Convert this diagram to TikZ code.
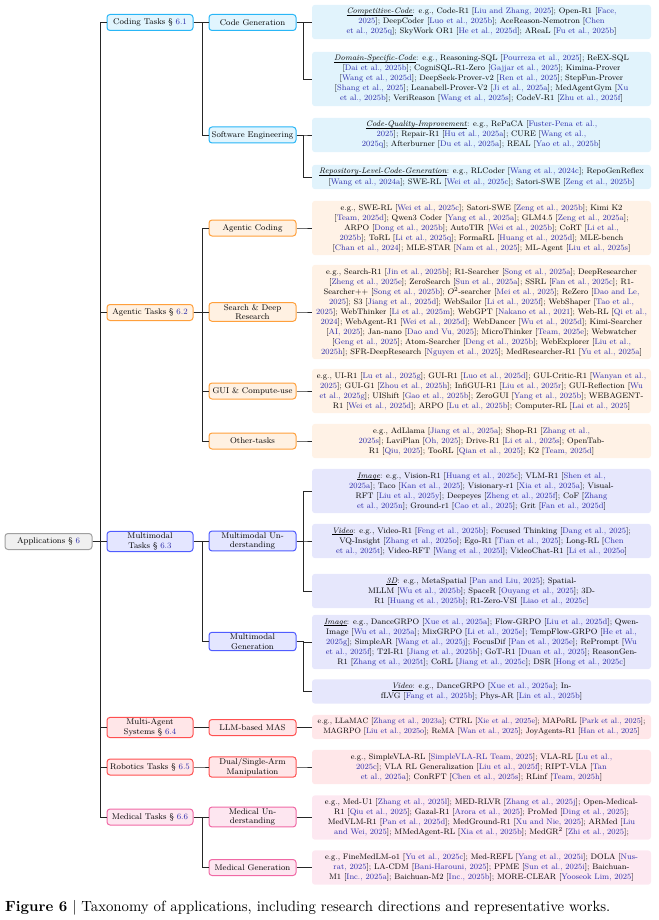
\documentclass[tikz,border=0pt]{standalone}
\usepackage{xcolor}
\usepackage{graphicx}
\definecolor{citeC}{RGB}{45,45,170}
\definecolor{cdB}{RGB}{41,182,246}\definecolor{cdF}{RGB}{225,245,254}\definecolor{cdL}{RGB}{225,243,252}
\definecolor{agB}{RGB}{255,160,60}\definecolor{agF}{RGB}{255,241,226}\definecolor{agL}{RGB}{255,242,230}
\definecolor{mmB}{RGB}{80,92,255}\definecolor{mmF}{RGB}{228,230,255}\definecolor{mmL}{RGB}{230,231,252}
\definecolor{maB}{RGB}{255,80,80}\definecolor{maF}{RGB}{255,230,232}\definecolor{maL}{RGB}{255,231,233}
\definecolor{mdB}{RGB}{240,105,165}\definecolor{mdF}{RGB}{253,230,240}\definecolor{mdL}{RGB}{253,232,241}
\definecolor{apB}{RGB}{160,160,160}\definecolor{apF}{RGB}{240,240,240}
\newcommand\C[1]{{\color{citeC}#1}}
\newcommand\U[1]{\setbox0\hbox{\textit{#1}}\rlap{\rule[-1.7pt]{\wd0}{0.4pt}}\box0}
\begin{document}
\begin{tikzpicture}[x=1pt,y=-1pt,
  cat/.style={draw, rounded corners=3pt, line width=1pt, minimum height=16pt, inner sep=1.5pt, align=center, font=\fontsize{8.3}{9.5}\selectfont},
  lone/.style={cat, minimum width=86pt},
  ltwo/.style={cat, minimum width=87pt},
  leaf/.style={rounded corners=3pt, minimum width=339pt, inner xsep=2pt, inner ysep=3.2pt, align=center, font=\fontsize{8}{10}\selectfont},
  cd/.style={draw=cdB, fill=cdF}, ag/.style={draw=agB, fill=agF}, mm/.style={draw=mmB, fill=mmF},
  ma/.style={draw=maB, fill=maF}, md/.style={draw=mdB, fill=mdF},
  conn/.style={draw=black!85, line width=0.9pt}]
\useasboundingbox (0,0) rectangle (658,920);

% root
\node[cat, draw=apB, fill=apF, minimum width=87pt] (A) at (48.5,541.5) {Applications \S\ \C{6}};

% level 1
\node[lone,cd] (c1) at (150,22.5) {Coding Tasks \S\ \C{6.1}};
\node[lone,ag] (c2) at (150,312.5) {Agentic Tasks \S\ \C{6.2}};
\node[lone,mm] (c3) at (150,541.5) {Multimodal\\Tasks \S\ \C{6.3}};
\node[lone,ma] (c4) at (150,727.5) {Multi-Agent\\Systems \S\ \C{6.4}};
\node[lone,ma] (c5) at (150,767) {Robotics Tasks \S\ \C{6.5}};
\node[lone,md] (c6) at (150,817) {Medical Tasks \S\ \C{6.6}};

% level 2
\node[ltwo,cd] (s11) at (252.5,22.5) {Code Generation};
\node[ltwo,cd] (s12) at (252.5,135) {Software Engineering};
\node[ltwo,ag] (s21) at (252.5,228) {Agentic Coding};
\node[ltwo,ag] (s22) at (252.5,312) {Search \& Deep\\Research};
\node[ltwo,ag] (s23) at (252.5,391) {GUI \& Compute-use};
\node[ltwo,ag] (s24) at (252.5,441) {Other-tasks};
\node[ltwo,mm] (s31) at (252.5,541) {Multimodal Un-\\derstanding};
\node[ltwo,mm] (s32) at (252.5,641.5) {Multimodal\\Generation};
\node[ltwo,ma] (s41) at (252.5,727.5) {LLM-based MAS};
\node[ltwo,ma] (s51) at (252.5,767) {Dual/Single-Arm\\Manipulation};
\node[ltwo,md] (s61) at (252.5,817) {Medical Un-\\derstanding};
\node[ltwo,md] (s62) at (252.5,867.5) {Medical Generation};

% leaves
\node[leaf,fill=cdL] (f1) at (481.5,22) {\U{Competitive-Code}: e.g., Code-R1 [\C{Liu and Zhang, 2025}]; Open-R1 [\C{Face,}\\
\C{2025}]; DeepCoder [\C{Luo et al., 2025b}]; AceReason-Nemotron [\C{Chen}\\
\C{et al., 2025q}]; SkyWork OR1 [\C{He et al., 2025d}]; AReaL [\C{Fu et al., 2025b}]};

\node[leaf,fill=cdL] (f2) at (481.5,79) {\U{Domain-Specific-Code}: e.g., Reasoning-SQL [\C{Pourreza et al., 2025}]; ReEX-SQL\\
{}[\C{Dai et al., 2025b}]; CogniSQL-R1-Zero [\C{Gajjar et al., 2025}]; Kimina-Prover\\
{}[\C{Wang et al., 2025d}]; DeepSeek-Prover-v2 [\C{Ren et al., 2025}]; StepFun-Prover\\
{}[\C{Shang et al., 2025}]; Leanabell-Prover-V2 [\C{Ji et al., 2025a}]; MedAgentGym [\C{Xu}\\
\C{et al., 2025b}]; VeriReason [\C{Wang et al., 2025s}]; CodeV-R1 [\C{Zhu et al., 2025f}]};

\node[leaf,fill=cdL] (f3) at (481.5,135) {\U{Code-Quality-Improvement}: e.g., RePaCA [\C{Fuster-Pena et al.,}\\
\C{2025}]; Repair-R1 [\C{Hu et al., 2025a}]; CURE [\C{Wang et al.,}\\
\C{2025q}]; Afterburner [\C{Du et al., 2025a}]; REAL [\C{Yao et al., 2025b}]};

\node[leaf,fill=cdL] (f4) at (481.5,177) {\U{Repository-Level-Code-Generation}: e.g., RLCoder [\C{Wang et al., 2024c}]; RepoGenReflex\\
{}[\C{Wang et al., 2024a}]; SWE-RL [\C{Wei et al., 2025c}]; Satori-SWE [\C{Zeng et al., 2025b}]};

\node[leaf,fill=agL] (f5) at (481.5,228) {e.g., SWE-RL [\C{Wei et al., 2025c}]; Satori-SWE [\C{Zeng et al., 2025b}]; Kimi K2\\
{}[\C{Team, 2025d}]; Qwen3 Coder [\C{Yang et al., 2025a}]; GLM4.5 [\C{Zeng et al., 2025a}];\\
ARPO [\C{Dong et al., 2025b}]; AutoTIR [\C{Wei et al., 2025b}]; CoRT [\C{Li et al.,}\\
\C{2025b}]; ToRL [\C{Li et al., 2025q}]; FormaRL [\C{Huang et al., 2025d}]; MLE-bench\\
{}[\C{Chan et al., 2024}]; MLE-STAR [\C{Nam et al., 2025}]; ML-Agent [\C{Liu et al., 2025s}]};

\node[leaf,fill=agL] (f6) at (481.5,312) {e.g., Search-R1 [\C{Jin et al., 2025b}]; R1-Searcher [\C{Song et al., 2025a}]; DeepResearcher\\
{}[\C{Zheng et al., 2025e}]; ZeroSearch [\C{Sun et al., 2025a}]; SSRL [\C{Fan et al., 2025c}]; R1-\\
Searcher++ [\C{Song et al., 2025b}]; $O^2$-searcher [\C{Mei et al., 2025}]; ReZero [\C{Dao and Le,}\\
\C{2025}]; S3 [\C{Jiang et al., 2025d}]; WebSailor [\C{Li et al., 2025f}]; WebShaper [\C{Tao et al.,}\\
\C{2025}]; WebThinker [\C{Li et al., 2025m}]; WebGPT [\C{Nakano et al., 2021}]; Web-RL [\C{Qi et al.,}\\
\C{2024}]; WebAgent-R1 [\C{Wei et al., 2025d}]; WebDancer [\C{Wu et al., 2025d}]; Kimi-Searcher\\
{}[\C{AI, 2025}]; Jan-nano [\C{Dao and Vu, 2025}]; MicroThinker [\C{Team, 2025e}]; Webwatcher\\
{}[\C{Geng et al., 2025}]; Atom-Searcher [\C{Deng et al., 2025b}]; WebExplorer [\C{Liu et al.,}\\
\C{2025h}]; SFR-DeepResearch [\C{Nguyen et al., 2025}]; MedResearcher-R1 [\C{Yu et al., 2025a}]};

\node[leaf,fill=agL] (f7) at (481.5,391) {e.g., UI-R1 [\C{Lu et al., 2025g}]; GUI-R1 [\C{Luo et al., 2025d}]; GUI-Critic-R1 [\C{Wanyan et al.,}\\
\C{2025}]; GUI-G1 [\C{Zhou et al., 2025h}]; InfiGUI-R1 [\C{Liu et al., 2025r}]; GUI-Reflection [\C{Wu}\\
\C{et al., 2025g}]; UIShift [\C{Gao et al., 2025b}]; ZeroGUI [\C{Yang et al., 2025b}]; WEBAGENT-\\
R1 [\C{Wei et al., 2025d}]; ARPO [\C{Lu et al., 2025b}]; Computer-RL [\C{Lai et al., 2025}]};

\node[leaf,fill=agL] (f8) at (481.5,441) {e.g., AdLlama [\C{Jiang et al., 2025a}]; Shop-R1 [\C{Zhang et al.,}\\
\C{2025s}]; LaviPlan [\C{Oh, 2025}]; Drive-R1 [\C{Li et al., 2025s}]; OpenTab-\\
R1 [\C{Qiu, 2025}]; TooRL [\C{Qian et al., 2025}]; K2 [\C{Team, 2025d}]};

\node[leaf,fill=mmL] (f9) at (481.5,491) {\U{Image}: e.g., Vision-R1 [\C{Huang et al., 2025c}]; VLM-R1 [\C{Shen et al.,}\\
\C{2025a}]; Taco [\C{Kan et al., 2025}]; Visionary-r1 [\C{Xia et al., 2025a}]; Visual-\\
RFT [\C{Liu et al., 2025y}]; Deepeyes [\C{Zheng et al., 2025f}]; CoF [\C{Zhang}\\
\C{et al., 2025n}]; Ground-r1 [\C{Cao et al., 2025}]; Grit [\C{Fan et al., 2025d}]};

\node[leaf,fill=mmL] (f10) at (481.5,541) {\U{Video}: e.g., Video-R1 [\C{Feng et al., 2025b}]; Focused Thinking [\C{Dang et al., 2025}];\\
VQ-Insight [\C{Zhang et al., 2025o}]; Ego-R1 [\C{Tian et al., 2025}]; Long-RL [\C{Chen}\\
\C{et al., 2025t}]; Video-RFT [\C{Wang et al., 2025l}]; VideoChat-R1 [\C{Li et al., 2025o}]};

\node[leaf,fill=mmL] (f11) at (481.5,591) {\U{3D}: e.g., MetaSpatial [\C{Pan and Liu, 2025}]; Spatial-\\
MLLM [\C{Wu et al., 2025b}]; SpaceR [\C{Ouyang et al., 2025}]; 3D-\\
R1 [\C{Huang et al., 2025b}]; R1-Zero-VSI [\C{Liao et al., 2025c}]};

\node[leaf,fill=mmL] (f12) at (481.5,642) {\U{Image}: e.g., DanceGRPO [\C{Xue et al., 2025a}]; Flow-GRPO [\C{Liu et al., 2025d}]; Qwen-\\
Image [\C{Wu et al., 2025a}]; MixGRPO [\C{Li et al., 2025e}]; TempFlow-GRPO [\C{He et al.,}\\
\C{2025g}]; SimpleAR [\C{Wang et al., 2025j}]; FocusDif [\C{Pan et al., 2025e}]; RePrompt [\C{Wu}\\
\C{et al., 2025f}]; T2I-R1 [\C{Jiang et al., 2025b}]; GoT-R1 [\C{Duan et al., 2025}]; ReasonGen-\\
R1 [\C{Zhang et al., 2025t}]; CoRL [\C{Jiang et al., 2025c}]; DSR [\C{Hong et al., 2025c}]};

\node[leaf,fill=mmL] (f13) at (481.5,691.5) {\U{Video}: e.g., DanceGRPO [\C{Xue et al., 2025a}]; In-\\
fLVG [\C{Fang et al., 2025b}]; Phys-AR [\C{Lin et al., 2025b}]};

\node[leaf,fill=maL,font=\fontsize{7.7}{10}\selectfont,inner xsep=1pt] (f14) at (481.5,727) {e.g., LLaMAC [\C{Zhang et al., 2023a}]; CTRL [\C{Xie et al., 2025e}]; MAPoRL [\C{Park et al., 2025}];\\
MAGRPO [\C{Liu et al., 2025o}]; ReMA [\C{Wan et al., 2025}]; JoyAgents-R1 [\C{Han et al., 2025}]};

\node[leaf,fill=maL] (f15) at (481.5,767) {e.g., SimpleVLA-RL [\C{SimpleVLA-RL Team, 2025}]; VLA-RL [\C{Lu et al.,}\\
\C{2025c}]; VLA RL Generalization [\C{Liu et al., 2025f}]; RIPT-VLA [\C{Tan}\\
\C{et al., 2025a}]; ConRFT [\C{Chen et al., 2025s}]; RLinf [\C{Team, 2025h}]};

\node[leaf,fill=mdL] (f16) at (481.5,817.5) {e.g., Med-U1 [\C{Zhang et al., 2025l}]; MED-RLVR [\C{Zhang et al., 2025j}]; Open-Medical-\\
R1 [\C{Qiu et al., 2025}]; Gazal-R1 [\C{Arora et al., 2025}]; ProMed [\C{Ding et al., 2025}];\\
MedVLM-R1 [\C{Pan et al., 2025d}]; MedGround-R1 [\C{Xu and Nie, 2025}]; ARMed [\C{Liu}\\
\C{and Wei, 2025}]; MMedAgent-RL [\C{Xia et al., 2025b}]; MedGR$^2$ [\C{Zhi et al., 2025}];};

\node[leaf,fill=mdL] (f17) at (481.5,867.5) {e.g., FineMedLM-o1 [\C{Yu et al., 2025c}]; Med-REFL [\C{Yang et al., 2025i}]; DOLA [\C{Nus-}\\
\C{rat, 2025}]; LA-CDM [\C{Bani-Harouni, 2025}]; PPME [\C{Sun et al., 2025i}]; Baichuan-\\
M1 [\C{Inc., 2025a}]; Baichuan-M2 [\C{Inc., 2025b}]; MORE-CLEAR [\C{Yooseok Lim, 2025}]};

% connectors
\foreach \c in {c1,c2,c3,c4,c5,c6} \draw[conn] (A.east) -- ++(8,0) |- (\c.west);
\foreach \p/\c in {c1/s11,c1/s12,c2/s21,c2/s22,c2/s23,c2/s24,c3/s31,c3/s32,c4/s41,c5/s51,c6/s61,c6/s62}
  \draw[conn] (\p.east) -- ++(8.5,0) |- (\c.west);
\foreach \p/\c in {s11/f1,s11/f2,s12/f3,s12/f4,s21/f5,s22/f6,s23/f7,s24/f8,s31/f9,s31/f10,s31/f11,s32/f12,s32/f13,s41/f14,s51/f15,s61/f16,s62/f17}
  \draw[conn] (\p.east) -- ++(7,0) |- (\c.west);

% caption
\node[anchor=west, inner sep=0pt] (cap) at (5,908) {\resizebox{605pt}{!}{\textbf{Figure 6} | Taxonomy of applications, including research directions and representative works.}};
\end{tikzpicture}
\end{document}
